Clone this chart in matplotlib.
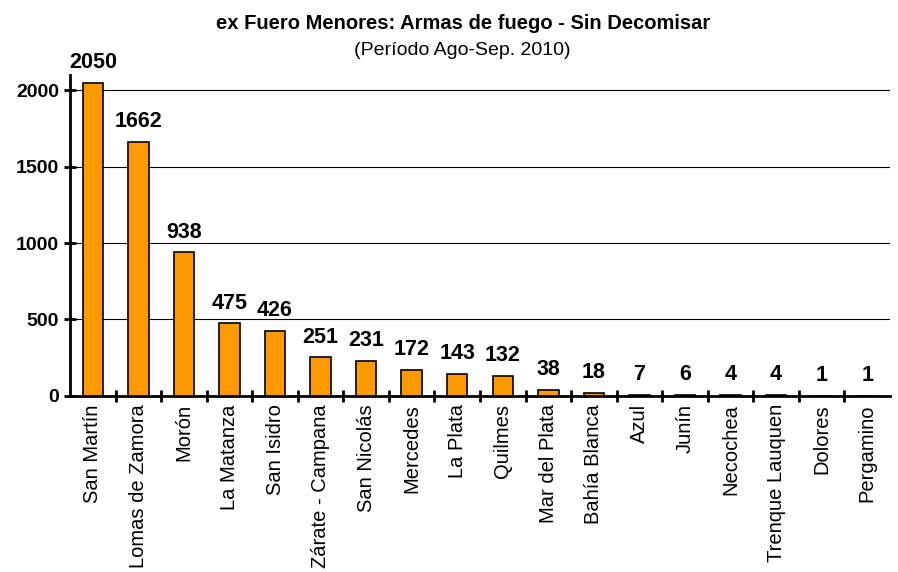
import matplotlib
matplotlib.use("Agg")
import matplotlib.pyplot as plt

plt.rcParams['font.family'] = ['Liberation Sans', 'DejaVu Sans']

categories = ["San Martín", "Lomas de Zamora", "Morón", "La Matanza", "San Isidro",
              "Zárate - Campana", "San Nicolás", "Mercedes", "La Plata", "Quilmes",
              "Mar del Plata", "Bahía Blanca", "Azul", "Junín", "Necochea",
              "Trenque Lauquen", "Dolores", "Pergamino"]
values = [2050, 1662, 938, 475, 426, 251, 231, 172, 143, 132, 38, 18, 7, 6, 4, 4, 1, 1]
yticks = [0, 500, 1000, 1500, 2000]

fig = plt.figure(figsize=(8.98, 5.72), dpi=100)
ax = fig.add_axes([0.078, 0.308, 0.913, 0.561])

x = range(len(categories))
ax.bar(x, values, width=0.45, color='#ff9900', edgecolor='black', linewidth=1.2, zorder=3)

# value labels above the bars
for i, v in enumerate(values):
    ax.annotate(str(v), (i, v), xytext=(0, 7), textcoords='offset points',
                ha='center', va='bottom', fontsize=15.5, fontweight='bold')

ax.set_xlim(-0.5, len(categories) - 0.5)
ax.set_ylim(0, 2100)
ax.set_yticks(yticks)
ax.set_yticklabels([str(t) for t in yticks], fontsize=14, fontweight='bold')
ax.yaxis.grid(True, color='black', linewidth=0.8, zorder=0)
# tick marks between categories, labels centred on bars
ax.set_xticks([i + 0.5 for i in x][:-1], minor=False)
ax.set_xticks(list(x), minor=True)
ax.set_xticklabels([''] * (len(categories) - 1))
ax.set_xticklabels(categories, minor=True, rotation=90, fontsize=14.5)
ax.tick_params(axis='x', which='minor', length=0, pad=6)
ax.tick_params(axis='x', which='major', direction='inout', length=8, width=2)
ax.tick_params(axis='y', direction='inout', length=8, width=2, pad=4)

for s in ['top', 'right']:
    ax.spines[s].set_visible(False)
ax.spines['left'].set_linewidth(2)
ax.spines['bottom'].set_linewidth(2)

fig.text(0.516, 0.95, "ex Fuero Menores: Armas de fuego - Sin Decomisar",
         ha='center', fontsize=14.5, fontweight='bold')
fig.text(0.515, 0.903, "(Período Ago-Sep. 2010)", ha='center', fontsize=14)

fig.savefig("out.png", dpi=100)
